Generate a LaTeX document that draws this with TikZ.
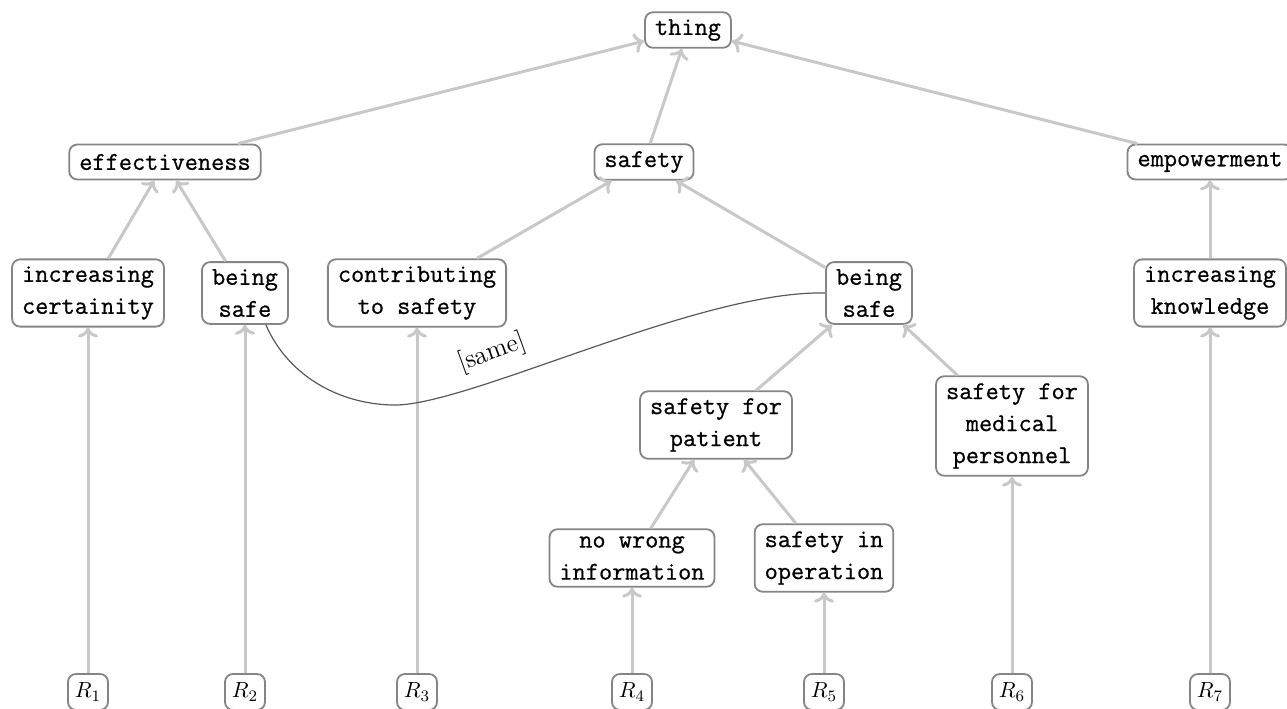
\documentclass[tikz,border=0pt]{standalone}
\usepackage{fontspec}
\newfontfamily\boxfont[FakeBold=0.7]{Latin Modern Mono}
\usetikzlibrary{arrows.meta}
\definecolor{edgegray}{HTML}{C8C8C8}
\definecolor{boxgray}{HTML}{858585}
\begin{document}
\begin{tikzpicture}[x=0.5pt,y=-0.5pt,
  cbox/.style={draw=boxgray, line width=0.9pt, rounded corners=4pt, fill=white, align=center,
    inner xsep=5pt, inner ysep=3.5pt, minimum height=17.5pt,
    font=\fontsize{12.8}{16}\selectfont\boxfont},
  rbox/.style={draw=boxgray, line width=0.9pt, rounded corners=4pt, fill=white,
    minimum width=20pt, minimum height=18pt, inner sep=1pt,
    font=\fontsize{11}{13}\selectfont},
  isa/.style={draw=edgegray, line width=1.5pt, -{Computer Modern Rightarrow[length=5pt,width=10pt]}},
  samelink/.style={draw=black!65, line width=0.6pt},
  samelabel/.style={font=\fontsize{13}{15}\selectfont, inner sep=0.5pt}]
\useasboundingbox (0,0) rectangle (1287,708);

\node[cbox] (thing) at (688,30) {thing};
\node[cbox] (eff) at (165,162) {effectiveness};
\node[cbox] (saf) at (644,162) {safety};
\node[cbox] (emp) at (1210,162) {empowerment};
\node[cbox] (inc) at (88,293) {increasing\\certainity};
\node[cbox] (bsl) at (245,293) {being\\safe};
\node[cbox] (con) at (417,293) {contributing\\to safety};
\node[cbox] (bsr) at (869,293) {being\\safe};
\node[cbox] (ink) at (1210,293) {increasing\\knowledge};
\node[cbox] (sfp) at (716,425) {safety for\\patient};
\node[cbox] (sfm) at (1012,426) {safety for\\medical\\personnel};
\node[cbox] (nwi) at (632,558) {no wrong\\information};
\node[cbox] (sio) at (824,558) {safety in\\operation};

\node[rbox] (r1) at (88,692) {$R_1$};
\node[rbox] (r2) at (245,692) {$R_2$};
\node[rbox] (r3) at (417,692) {$R_3$};
\node[rbox] (r4) at (632,692) {$R_4$};
\node[rbox] (r5) at (824,692) {$R_5$};
\node[rbox] (r6) at (1012,692) {$R_6$};
\node[rbox] (r7) at (1210,692) {$R_7$};

\draw[isa] (eff) -- (thing);
\draw[isa] (saf) -- (thing);
\draw[isa] (emp) -- (thing);
\draw[isa] (inc) -- (eff);
\draw[isa] (bsl) -- (eff);
\draw[isa] (con) -- (saf);
\draw[isa] (bsr) -- (saf);
\draw[isa] (ink) -- (emp);
\draw[isa] (sfp) -- (bsr);
\draw[isa] (sfm) -- (bsr);
\draw[isa] (nwi) -- (sfp);
\draw[isa] (sio) -- (sfp);
\draw[isa] (r1) -- (inc);
\draw[isa] (r2) -- (bsl);
\draw[isa] (r3) -- (con);
\draw[isa] (r4) -- (nwi);
\draw[isa] (r5) -- (sio);
\draw[isa] (r6) -- (sfm);
\draw[isa] (r7) -- (ink);

\draw[samelink] ([xshift=-11.5pt]bsl.south east) .. controls (290,380) and (345,405) .. (395,405)
  .. controls (470,405) and (700,290) .. (bsr.west);
\node[samelabel, rotate=20] (lbl) at (492,353) {[same]};
\end{tikzpicture}
\end{document}
